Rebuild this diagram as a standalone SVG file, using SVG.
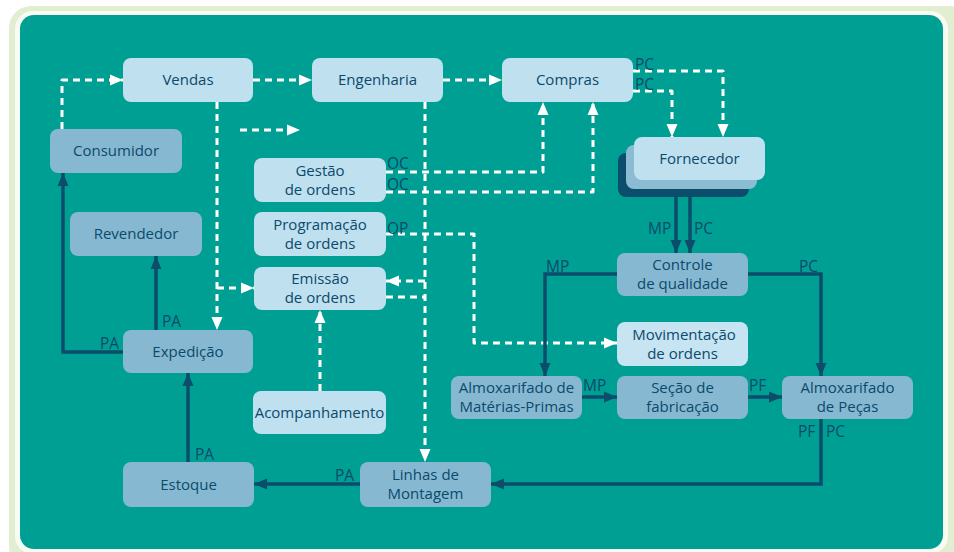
<svg xmlns="http://www.w3.org/2000/svg" width="954" height="552" viewBox="0 0 954 552">
<style>
.l{fill:#bfe0ef}
.d{fill:#86b9d1}
.t{font-family:"Open Sans","Noto Sans",sans-serif;font-size:15px;font-weight:500;fill:#0c4a6c;text-anchor:middle}
.lb{font-family:"Open Sans","Noto Sans",sans-serif;font-size:15.5px;font-weight:500;fill:#0c4a6c}
.w{fill:none;stroke:#ffffff;stroke-width:3;stroke-dasharray:7 5;stroke-linejoin:round}
.s{fill:none;stroke:#0b4d6b;stroke-width:3.5;stroke-linejoin:miter}
</style>
<defs>
<marker id="aw" markerUnits="userSpaceOnUse" markerWidth="14" markerHeight="12" refX="13" refY="6" orient="auto"><path d="M0,0.5 L13,6 L0,11.5 z" fill="#ffffff"/></marker>
<marker id="ad" markerUnits="userSpaceOnUse" markerWidth="14" markerHeight="12" refX="13" refY="6" orient="auto"><path d="M0,0.5 L13,6 L0,11.5 z" fill="#0b4d6b"/></marker>
</defs>
<rect x="9" y="6" width="962" height="562" rx="22" fill="#e2eed2"/>
<rect x="15" y="11" width="933" height="543" rx="18" fill="#f7fbf0"/>
<rect x="20" y="15" width="923" height="534" rx="14" fill="#009f94"/>

<g id="connectors">
<path class="w" d="M62,129 V80 H123" marker-end="url(#aw)"/>
<path class="w" d="M253,80 H312" marker-end="url(#aw)"/>
<path class="w" d="M443,80 H502" marker-end="url(#aw)"/>
<path class="w" d="M240,130 H300" marker-end="url(#aw)"/>
<path class="w" d="M217,102 V330" marker-end="url(#aw)"/>
<path class="w" d="M217,288 H254" marker-end="url(#aw)"/>
<path class="w" d="M425,102 V462" marker-end="url(#aw)"/>
<path class="w" d="M425,281 H386" marker-end="url(#aw)"/>
<path class="w" d="M386,297 H425"/>
<path class="w" d="M386,172 H543 V102" marker-end="url(#aw)"/>
<path class="w" d="M386,192 H593 V102" marker-end="url(#aw)"/>
<path class="w" d="M386,234 H474 V343 H617" marker-end="url(#aw)"/>
<path class="w" d="M320,391 V310" marker-end="url(#aw)"/>
<path class="w" d="M633,71 H723 V137" marker-end="url(#aw)"/>
<path class="w" d="M633,91 H672 V137" marker-end="url(#aw)"/>

<path class="s" d="M676,197 V253" marker-end="url(#ad)"/>
<path class="s" d="M690,197 V253" marker-end="url(#ad)"/>
<path class="s" d="M617,274 H545 V376" marker-end="url(#ad)"/>
<path class="s" d="M748,274 H821 V376" marker-end="url(#ad)"/>
<path class="s" d="M582,397 H617" marker-end="url(#ad)"/>
<path class="s" d="M748,397 H782" marker-end="url(#ad)"/>
<path class="s" d="M821,419 V484 H491" marker-end="url(#ad)"/>
<path class="s" d="M360,484 H254" marker-end="url(#ad)"/>
<path class="s" d="M188,462 V373" marker-end="url(#ad)"/>
<path class="s" d="M156,330 V256" marker-end="url(#ad)"/>
<path class="s" d="M123,352 H63 V173" marker-end="url(#ad)"/>

<text class="lb" x="387" y="169">OC</text>
<text class="lb" x="387" y="190">OC</text>
<text class="lb" x="387" y="234">OP</text>
<text class="lb" x="635" y="70">PC</text>
<text class="lb" x="635" y="90">PC</text>
<text class="lb" x="648" y="234">MP</text>
<text class="lb" x="694" y="234">PC</text>
<text class="lb" x="546" y="272">MP</text>
<text class="lb" x="799" y="272">PC</text>
<text class="lb" x="583" y="391">MP</text>
<text class="lb" x="749" y="391">PF</text>
<text class="lb" x="798" y="437">PF</text>
<text class="lb" x="826" y="437">PC</text>
<text class="lb" x="335" y="481">PA</text>
<text class="lb" x="195" y="460">PA</text>
<text class="lb" x="162" y="327">PA</text>
<text class="lb" x="100" y="349">PA</text>
</g>

<g id="vendas"><rect class="l" x="123" y="58" width="130" height="44" rx="8"/><text class="t" x="188" y="85">Vendas</text></g>
<g id="engenharia"><rect class="l" x="312" y="58" width="131" height="44" rx="8"/><text class="t" x="377.5" y="85">Engenharia</text></g>
<g id="compras"><rect class="l" x="502" y="58" width="131" height="44" rx="8"/><text class="t" x="567.5" y="85">Compras</text></g>
<g id="consumidor"><rect class="d" x="50" y="129" width="132" height="44" rx="8"/><text class="t" x="116" y="156">Consumidor</text></g>
<g id="gestao"><rect class="l" x="254" y="158" width="132" height="44" rx="8"/><text class="t" x="320" y="176">Gestão</text><text class="t" x="320" y="195">de ordens</text></g>
<g id="programacao"><rect class="l" x="254" y="212" width="132" height="44" rx="8"/><text class="t" x="320" y="230">Programação</text><text class="t" x="320" y="249">de ordens</text></g>
<g id="emissao"><rect class="l" x="254" y="267" width="132" height="43" rx="8"/><text class="t" x="320" y="284">Emissão</text><text class="t" x="320" y="303">de ordens</text></g>
<g id="revendedor"><rect class="d" x="70" y="212" width="132" height="44" rx="8"/><text class="t" x="136" y="239">Revendedor</text></g>
<g id="expedicao"><rect class="d" x="123" y="330" width="130" height="43" rx="8"/><text class="t" x="188" y="357">Expedição</text></g>
<g id="acompanhamento"><rect class="l" x="253" y="391" width="133" height="43" rx="8"/><text class="t" x="319.5" y="418">Acompanhamento</text></g>
<g id="estoque"><rect class="d" x="123" y="462" width="131" height="45" rx="8"/><text class="t" x="188.5" y="490">Estoque</text></g>
<g id="linhas"><rect class="d" x="360" y="462" width="131" height="45" rx="8"/><text class="t" x="425.5" y="480">Linhas de</text><text class="t" x="425.5" y="499">Montagem</text></g>
<g id="fornecedor"><rect x="618" y="153" width="131" height="44" rx="8" fill="#0b4d6b"/><rect x="626" y="145" width="131" height="44" rx="8" fill="#8bbcd3"/><rect class="l" x="634" y="137" width="131" height="43" rx="8"/><text class="t" x="699.5" y="164">Fornecedor</text></g>
<g id="controle"><rect class="d" x="617" y="253" width="131" height="43" rx="8"/><text class="t" x="682.5" y="270">Controle</text><text class="t" x="682.5" y="289">de qualidade</text></g>
<g id="movimentacao"><rect x="617" y="322" width="131" height="44" rx="8" fill="#c6e4f1"/><text class="t" x="684" y="340">Movimentação</text><text class="t" x="682.5" y="359">de ordens</text></g>
<g id="almox-mp"><rect class="d" x="451" y="376" width="131" height="43" rx="8"/><text class="t" x="516.5" y="393">Almoxarifado de</text><text class="t" x="516.5" y="412">Matérias-Primas</text></g>
<g id="secao"><rect class="d" x="617" y="376" width="131" height="43" rx="8"/><text class="t" x="682.5" y="393">Seção de</text><text class="t" x="682.5" y="412">fabricação</text></g>
<g id="almox-pecas"><rect class="d" x="782" y="376" width="131" height="43" rx="8"/><text class="t" x="847.5" y="393">Almoxarifado</text><text class="t" x="847.5" y="412">de Peças</text></g>
</svg>
